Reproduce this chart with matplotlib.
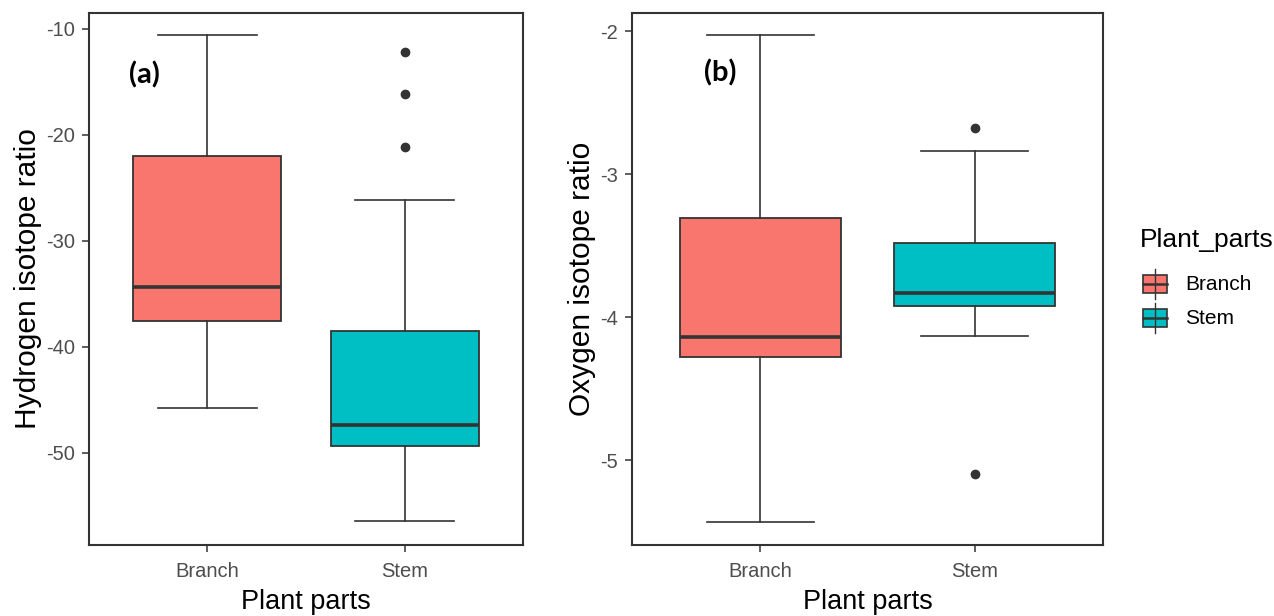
import matplotlib
matplotlib.use("Agg")
import matplotlib.pyplot as plt
from matplotlib.patches import Rectangle
from matplotlib.lines import Line2D

# ---------------- data ----------------
categories = ["Branch", "Stem"]
colors = ["#F8766D", "#00BFC4"]

# Hydrogen isotope ratio summary (whislo, q1, med, q3, whishi, outliers)
h_whislo = [-45.8, -56.4]
h_q1 = [-37.6, -49.4]
h_med = [-34.4, -47.4]
h_q3 = [-22.0, -38.5]
h_whishi = [-10.6, -26.1]
h_fliers = [[], [-12.2, -16.1, -21.1]]

# Oxygen isotope ratio summary
o_whislo = [-5.43, -4.13]
o_q1 = [-4.28, -3.92]
o_med = [-4.14, -3.83]
o_q3 = [-3.31, -3.48]
o_whishi = [-2.03, -2.84]
o_fliers = [[], [-2.68, -5.10]]

h_ticks = [-10, -20, -30, -40, -50]
o_ticks = [-2, -3, -4, -5]

# ---------------- style ----------------
plt.rcParams['font.family'] = ['Liberation Sans', 'DejaVu Sans']
LINE = "#333333"
TICKC = "#4D4D4D"

fig = plt.figure(figsize=(12.74, 6.16), dpi=100)
W, H = 1274, 616


def add_ax(l, r, t, b):
    return fig.add_axes([l / W, 1 - b / H, (r - l) / W, (b - t) / H])


def draw_panel(ax, whislo, q1, med, q3, whishi, fliers, ylim, ticks, ylabel, tag, tagxy):
    stats = []
    for i in range(len(categories)):
        stats.append(dict(med=med[i], q1=q1[i], q3=q3[i], whislo=whislo[i],
                          whishi=whishi[i], fliers=fliers[i], label=categories[i]))
    bp = ax.bxp(stats, positions=[1, 2], widths=0.75, patch_artist=True,
                showcaps=True, capwidths=0.5,
                boxprops=dict(edgecolor=LINE, linewidth=1.3),
                medianprops=dict(color=LINE, linewidth=2.6, solid_capstyle='butt'),
                whiskerprops=dict(color=LINE, linewidth=1.2),
                capprops=dict(color=LINE, linewidth=1.2),
                flierprops=dict(marker='o', markersize=6, markerfacecolor=LINE,
                                markeredgecolor=LINE))
    for patch, c in zip(bp['boxes'], colors):
        patch.set_facecolor(c)
    ax.set_xlim(0.4, 2.6)
    ax.set_ylim(*ylim)
    ax.set_yticks(ticks)
    ax.set_yticklabels([str(t) for t in ticks])
    ax.set_xticks([1, 2])
    ax.set_xticklabels(categories)
    ax.tick_params(axis='both', colors=LINE, labelcolor=TICKC, labelsize=14.5,
                   length=5, width=1.1, direction='out')
    ax.tick_params(axis='x', pad=7)
    ax.tick_params(axis='y', pad=5)
    for sp in ax.spines.values():
        sp.set_color(LINE)
        sp.set_linewidth(1.5)
    ax.set_ylabel(ylabel, fontsize=21.5, color='black', labelpad=3)
    ax.set_xlabel("Plant parts", fontsize=19.5, color='black', labelpad=6)
    ax.text(tagxy[0], tagxy[1], tag, fontsize=21, fontweight='bold',
            family=['Lato', 'DejaVu Sans'], ha='center', va='center', color='black')


ax1 = add_ax(89, 523, 13, 545)
draw_panel(ax1, h_whislo, h_q1, h_med, h_q3, h_whishi, h_fliers,
           (-58.7, -8.5), h_ticks, "Hydrogen isotope ratio", "(a)", (0.68, -14.3))

ax2 = add_ax(632, 1103, 13, 545)
draw_panel(ax2, o_whislo, o_q1, o_med, o_q3, o_whishi, o_fliers,
           (-5.594, -1.874), o_ticks, "Oxygen isotope ratio", "(b)", (0.81, -2.29))

# ---------------- legend ----------------
fig.text(1140 / W, 1 - 240 / H, "Plant_parts", fontsize=19, ha='left', va='center')
lax = fig.add_axes([0, 0, 1, 1], facecolor='none')
lax.set_xlim(0, W)
lax.set_ylim(H, 0)
lax.axis('off')
for i, (cat, c) in enumerate(zip(categories, colors)):
    yc = 284 + i * 34
    x0, x1 = 1143, 1167
    xm = (x0 + x1) / 2
    lax.add_line(Line2D([xm, xm], [yc - 15, yc + 15], color=LINE, lw=1.0))
    lax.add_patch(Rectangle((x0, yc - 9), x1 - x0, 18, facecolor=c, edgecolor=LINE, lw=1.2))
    lax.add_line(Line2D([x0, x1], [yc, yc], color=LINE, lw=1.8))
    lax.text(1185, yc + 1, cat, fontsize=15, ha='left', va='center', color='black')

fig.savefig("out.png", dpi=100)
